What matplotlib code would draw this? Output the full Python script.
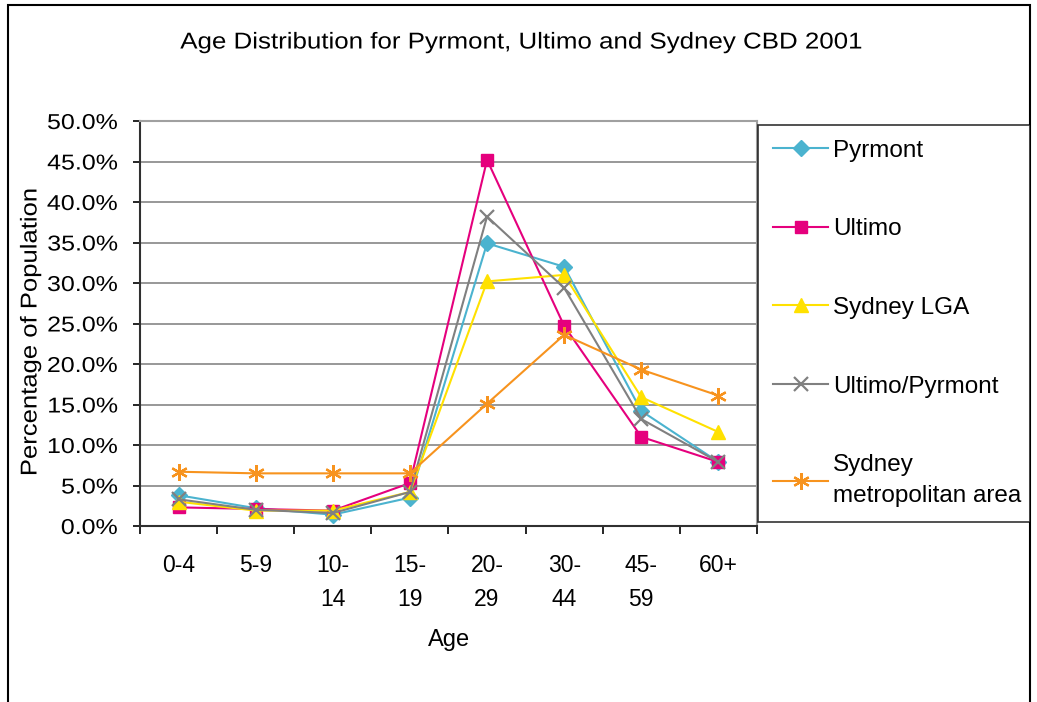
import matplotlib.pyplot as plt
from matplotlib.patches import Rectangle
from matplotlib.patheffects import AbstractPathEffect
from matplotlib.transforms import Affine2D
from matplotlib.ticker import PercentFormatter, FixedLocator

plt.rcParams['font.family'] = ['Liberation Sans', 'DejaVu Sans']


class Widen(AbstractPathEffect):
    """Stretch text glyphs along the baseline, keeping the given anchor fixed."""

    def __init__(self, sx=1.15, anchor='center'):
        super().__init__()
        self.sx = sx
        self.anchor = anchor

    def draw_path(self, renderer, gc, tpath, affine, rgbFace=None):
        if len(tpath.vertices) == 0:
            return
        ext = tpath.get_extents()
        if self.anchor == 'right':
            cx = ext.x1
        elif self.anchor == 'left':
            cx = 0
        else:
            cx = (ext.x0 + ext.x1) / 2
        t = Affine2D().translate(-cx, 0).scale(self.sx, 1).translate(cx, 0) + affine
        renderer.draw_path(gc, tpath, t, rgbFace)


age_groups = ['0-4', '5-9', '10-\n14', '15-\n19', '20-\n29', '30-\n44', '45-\n59', '60+']

pyrmont = [3.8, 2.2, 1.4, 3.5, 34.9, 32.0, 14.2, 7.9]
ultimo = [2.3, 2.1, 1.9, 5.3, 45.2, 24.7, 11.0, 7.9]
sydney_lga = [3.0, 1.9, 1.9, 4.2, 30.2, 31.0, 15.9, 11.6]
ultimo_pyrmont = [3.3, 2.0, 1.6, 4.2, 38.2, 29.4, 13.2, 7.9]
sydney_metro = [6.7, 6.5, 6.5, 6.5, 15.1, 23.6, 19.3, 16.1]

series = [
    ('Pyrmont', pyrmont, '#4BB3CF', 'D', 8),
    ('Ultimo', ultimo, '#E5007D', 's', 8),
    ('Sydney LGA', sydney_lga, '#FFE100', '^', 10),
    ('Ultimo/Pyrmont', ultimo_pyrmont, '#808080', 'x', 10),
    ('Sydney\nmetropolitan area', sydney_metro, '#F7931E', (6, 2, 0), 12),
]

fig = plt.figure(figsize=(10.37, 7.02), dpi=100)
W, H = 1037, 702
ax = fig.add_axes([140 / W, 1 - 526 / H, (757 - 140) / W, (526 - 121) / H])

x = list(range(len(age_groups)))
lines = []
for name, vals, col, mk, ms in series:
    ln, = ax.plot(x, vals, color=col, marker=mk, markersize=ms, linewidth=1.5,
                  markeredgewidth=1.6 if mk in ('x', (6, 2, 0)) else 1,
                  markeredgecolor=col, label=name)
    lines.append(ln)

ax.set_xlim(-0.5, len(age_groups) - 0.5)
ax.set_ylim(0, 50)
ax.yaxis.set_major_locator(FixedLocator([i * 5 for i in range(11)]))
ax.yaxis.set_major_formatter(PercentFormatter(decimals=1))
ax.set_xticks(x)
ax.set_xticklabels(age_groups, fontsize=16.5, linespacing=1.65, va='top')
ax.set_xticks([i - 0.5 for i in range(len(age_groups) + 1)], minor=True)
ax.tick_params(axis='x', which='major', length=0, pad=20)
ax.tick_params(axis='x', which='minor', length=6, width=1.2, color='black', direction='out')
ax.tick_params(axis='y', labelsize=15.5, length=5, width=1.2, direction='out', pad=11)
for lab in ax.get_yticklabels():
    lab.set_path_effects([Widen(1.16, 'right')])

ax.grid(axis='y', color='#868686', linewidth=1.2)
ax.set_axisbelow(True)
for side in ('left', 'bottom'):
    ax.spines[side].set_color('#303030')
    ax.spines[side].set_linewidth(1.5)
for side in ('top', 'right'):
    ax.spines[side].set_color('#a0a0a0')
    ax.spines[side].set_linewidth(1.5)

ax.set_xlabel('Age', fontsize=17, va='center')
ax.xaxis.set_label_coords((449 - 140) / 617, (526 - 640) / 405)
ax.set_ylabel('Percentage of Population', fontsize=16.5, va='center',
              path_effects=[Widen(1.12)])
ax.yaxis.set_label_coords((30 - 140) / 617, (526 - 332) / 405)

fig.text(521 / W, 1 - 42 / H, 'Age Distribution for Pyrmont, Ultimo and Sydney CBD 2001',
         ha='center', va='center', fontsize=16.5, path_effects=[Widen(1.13)])

leg = fig.legend(handles=lines, loc='upper left',
                 bbox_to_anchor=(758 / W, 1 - 125 / H, (1030 - 758) / W, 0),
                 mode='expand', frameon=True, fancybox=False, edgecolor='black',
                 fontsize=17.5, labelspacing=2.33, handlelength=2.3, handletextpad=0.18,
                 borderaxespad=0, borderpad=0.6)
leg.get_frame().set_linewidth(1.2)
for t in leg.get_texts():
    t.set_linespacing(1.54)

# outer frame of the chart area
fig.patches.append(Rectangle((8 / W, -0.01), (1030 - 8) / W, 1 - 5 / H + 0.01,
                             transform=fig.transFigure, fill=False,
                             edgecolor='black', linewidth=1.5))

fig.savefig('out.png', dpi=100)
